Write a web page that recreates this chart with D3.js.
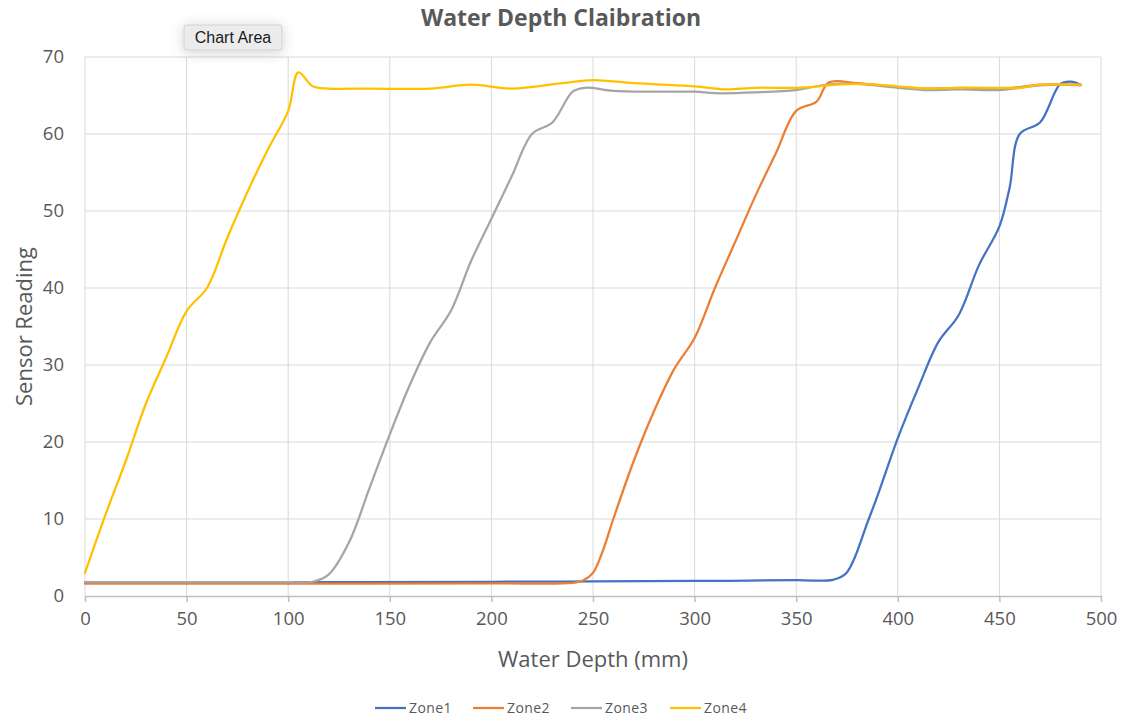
<!DOCTYPE html>
<html>
<head>
<meta charset="utf-8">
<script src="https://cdn.jsdelivr.net/npm/d3@7"></script>
<style>
  body { margin: 0; background: #fff; }
  svg { display: block; font-family: "Open Sans", sans-serif; }
</style>
</head>
<body>
<div id="chart"></div>
<script>
// ------------------------------------------------------
// data
// ------------------------------------------------------
var seriesNames = ["Zone1", "Zone2", "Zone3", "Zone4"]
var seriesColors = ["#4472C4", "#ED7D31", "#A5A5A5", "#FFC000"]

var zone1Depth = [0, 100, 200, 250, 300, 350, 368, 374, 378, 385, 390, 400, 410, 420, 430, 440, 450, 455, 460, 470, 480, 485, 490]
var zone1Value = [1.8, 1.8, 1.85, 1.9, 1.95, 2.05, 2.1, 2.8, 4.5, 9.5, 13, 20.5, 27, 33, 36.5, 43, 48, 53, 60, 61.5, 66.5, 66.8, 66.4]

var zone2Depth = [0, 100, 200, 240, 245, 250, 255, 260, 270, 280, 290, 300, 310, 320, 330, 340, 350, 360, 366, 380, 400, 415, 430, 450, 460, 470, 490]
var zone2Value = [1.6, 1.6, 1.65, 1.7, 2, 3, 6, 10, 17.5, 24, 29.5, 33.5, 40, 46, 52, 57.5, 63, 64.2, 66.7, 66.6, 66.1, 65.9, 66, 65.9, 66.1, 66.4, 66.4]

var zone3Depth = [0, 50, 100, 112, 120, 130, 140, 150, 160, 170, 180, 190, 200, 210, 220, 230, 240, 246, 260, 280, 300, 310, 330, 350, 360, 370, 380, 400, 415, 430, 450, 460, 470, 480, 490]
var zone3Value = [1.8, 1.8, 1.8, 1.85, 2.8, 7, 14, 21, 27.5, 33, 37, 43.5, 49, 54.5, 60, 61.5, 65.5, 66, 65.6, 65.5, 65.5, 65.3, 65.4, 65.7, 66.2, 66.5, 66.5, 66, 65.7, 65.8, 65.7, 66, 66.3, 66.4, 66.3]

var zone4Depth = [0, 10, 20, 30, 40, 50, 60, 70, 80, 90, 100, 105, 112, 120, 140, 170, 190, 210, 235, 250, 270, 300, 315, 330, 350, 370, 380, 400, 415, 430, 450, 460, 470, 490]
var zone4Value = [3, 10.5, 17.5, 25, 31, 37, 40, 46.5, 52.5, 58, 63, 68, 66.2, 65.9, 65.9, 65.9, 66.4, 65.9, 66.6, 67, 66.6, 66.2, 65.8, 66, 66, 66.4, 66.5, 66.2, 65.9, 66, 66, 66, 66.4, 66.4]

var xTicks = [0, 50, 100, 150, 200, 250, 300, 350, 400, 450, 500]
var yTicks = [0, 10, 20, 30, 40, 50, 60, 70]

var depths = [zone1Depth, zone2Depth, zone3Depth, zone4Depth]
var values = [zone1Value, zone2Value, zone3Value, zone4Value]

//---------------------------------------------------
// layout
//---------------------------------------------------
var outerWidth = 1134,
    outerHeight = 716
var plotLeft = 85,
    plotRight = 1101,
    plotTop = 57,
    plotBottom = 596
var textColor = "#595959"
var gridColor = "#d9d9d9"

var svg = d3.select("#chart")
    .append("svg")
    .attr("width", outerWidth)
    .attr("height", outerHeight)

var defs = svg.append("defs")
var shadow = defs.append("filter")
    .attr("id", "tipShadow")
    .attr("x", "-60%").attr("y", "-120%")
    .attr("width", "220%").attr("height", "340%")
shadow.append("feDropShadow")
    .attr("dx", 0).attr("dy", 2)
    .attr("stdDeviation", 7)
    .attr("flood-color", "#000")
    .attr("flood-opacity", 0.18)

var x = d3.scaleLinear().domain([0, 500]).range([plotLeft, plotRight])
var y = d3.scaleLinear().domain([0, 70]).range([plotBottom, plotTop])

//------------------------------------------
// grid lines
//------------------------------------------
svg.append("g")
    .selectAll("line")
    .data(yTicks.slice(1))
    .enter()
    .append("line")
    .attr("x1", plotLeft).attr("x2", plotRight)
    .attr("y1", d => y(d)).attr("y2", d => y(d))
    .style("stroke", gridColor)
    .style("stroke-width", "1px")

svg.append("g")
    .selectAll("line")
    .data(xTicks)
    .enter()
    .append("line")
    .attr("x1", d => x(d)).attr("x2", d => x(d))
    .attr("y1", plotTop).attr("y2", plotBottom)
    .style("stroke", gridColor)
    .style("stroke-width", "1px")

//------------------------------------------
// axes
//------------------------------------------
var xAxis = svg.append("g")
    .attr("transform", "translate(0," + plotBottom + ")")
    .call(d3.axisBottom(x).tickValues(xTicks).tickSizeInner(6).tickSizeOuter(0).tickPadding(10))
xAxis.select(".domain").style("stroke", "#bfbfbf").style("stroke-width", "1.5px")
xAxis.selectAll(".tick line").style("stroke", "#bfbfbf").style("stroke-width", "1.5px")
xAxis.selectAll("text")
    .style("font-size", "18.5px")
    .style("fill", textColor)
    .style("font-family", "'Open Sans', sans-serif")

var yAxis = svg.append("g")
    .attr("transform", "translate(" + plotLeft + ",0)")
    .call(d3.axisLeft(y).tickValues(yTicks).tickSize(0).tickPadding(21))
yAxis.select(".domain").remove()
yAxis.selectAll("text")
    .style("font-size", "18.5px")
    .style("fill", textColor)
    .style("font-family", "'Open Sans', sans-serif")

//------------------------------------------
// titles
//------------------------------------------
svg.append("text")
    .attr("x", 561).attr("y", 26)
    .attr("text-anchor", "middle")
    .style("font-size", "23px")
    .style("font-weight", "bold")
    .style("fill", textColor)
    .text("Water Depth Claibration")

svg.append("text")
    .attr("x", (plotLeft + plotRight) / 2).attr("y", 667)
    .attr("text-anchor", "middle")
    .style("font-size", "22px")
    .style("fill", textColor)
    .text("Water Depth (mm)")

svg.append("text")
    .attr("transform", "translate(32," + ((plotTop + plotBottom) / 2) + ") rotate(-90)")
    .attr("text-anchor", "middle")
    .style("font-size", "22px")
    .style("fill", textColor)
    .text("Sensor Reading")

//------------------------------------------
// the series
//------------------------------------------
var line = d3.line()
    .x(d => x(d[0]))
    .y(d => y(d[1]))
    .curve(d3.curveCatmullRom.alpha(0.5))

var series = seriesNames.map((name, i) => {
    return {
        name: name,
        color: seriesColors[i],
        points: depths[i].map((d, j) => [d, values[i][j]])
    }
})

svg.append("g")
    .selectAll("path")
    .data(series)
    .enter()
    .append("path")
    .attr("d", d => line(d.points))
    .style("fill", "none")
    .style("stroke", d => d.color)
    .style("stroke-width", "2.25px")
    .style("stroke-linejoin", "round")
    .style("stroke-linecap", "round")

//------------------------------------------
// legend
//------------------------------------------
var legendX = [375, 473, 571, 670]
var legend = svg.append("g")
    .selectAll("g")
    .data(series)
    .enter()
    .append("g")
    .attr("transform", (d, i) => "translate(" + legendX[i] + ",708)")

legend.append("line")
    .attr("x1", 0).attr("x2", 31)
    .attr("y1", 0).attr("y2", 0)
    .style("stroke", d => d.color)
    .style("stroke-width", "2.25px")

legend.append("text")
    .attr("x", 34).attr("y", 5)
    .style("font-size", "14px")
    .style("letter-spacing", "0.4px")
    .style("fill", textColor)
    .text(d => d.name)

//------------------------------------------
// hover tooltip as seen in the picture
//------------------------------------------
var tip = svg.append("g").attr("transform", "translate(184,25)")
tip.append("rect")
    .attr("width", 98).attr("height", 25)
    .attr("rx", 2)
    .style("fill", "#ececec")
    .style("stroke", "#cfcfcf")
    .style("stroke-width", "1px")
    .attr("filter", "url(#tipShadow)")
tip.append("text")
    .attr("x", 49).attr("y", 18)
    .attr("text-anchor", "middle")
    .style("font-size", "16px")
    .style("fill", "#1a1a1a")
    .style("font-family", "'Liberation Sans', sans-serif")
    .text("Chart Area")
</script>
</body>
</html>
